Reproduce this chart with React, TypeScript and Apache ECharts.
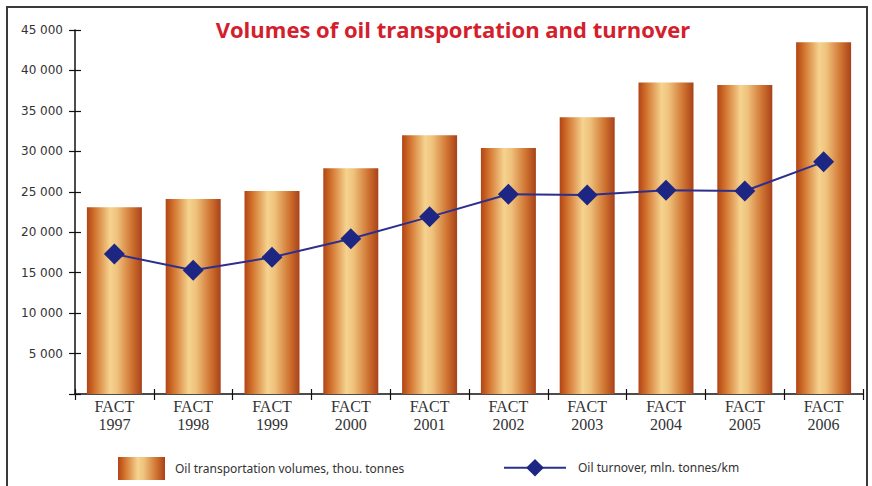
import React, { useEffect, useRef } from "react";
import * as echarts from "echarts";

const categories = ["FACT\n1997", "FACT\n1998", "FACT\n1999", "FACT\n2000", "FACT\n2001", "FACT\n2002", "FACT\n2003", "FACT\n2004", "FACT\n2005", "FACT\n2006"];
const volumes = [23100, 24100, 25100, 27900, 32000, 30400, 34200, 38500, 38200, 43500];
const turnover = [17300, 15300, 16900, 19200, 21900, 24700, 24600, 25200, 25100, 28700];
const titleText = "Volumes of oil transportation and turnover";
const barName = "Oil transportation volumes, thou. tonnes";
const lineName = "Oil turnover, mln. tonnes/km";

const fmt = (v: number) => (v === 0 ? "" : `${Math.floor(v / 1000)} 000`);

export default function App() {
  const ref = useRef<HTMLDivElement>(null);
  useEffect(() => {
    document.body.style.margin = "0";
    const chart = echarts.init(ref.current!, null, { renderer: "svg" });
    const barGrad = new echarts.graphic.LinearGradient(0, 0, 1, 0, [
      { offset: 0, color: "#b24414" },
      { offset: 0.15, color: "#d3752f" },
      { offset: 0.42, color: "#f5d38f" },
      { offset: 0.55, color: "#efc27c" },
      { offset: 0.82, color: "#cf7230" },
      { offset: 1, color: "#a8421a" },
    ]);
    const yCommon = {
      type: "value" as const,
      min: 0,
      max: 45000,
      interval: 5000,
      splitLine: { show: false },
    };
    chart.setOption({
      animation: false,
      backgroundColor: "#ffffff",
      title: {
        text: titleText,
        left: 448,
        top: 13,
        textAlign: "center",
        textStyle: {
          color: "#d3202c",
          fontFamily: "'Open Sans', sans-serif",
          fontWeight: "bold",
          fontSize: 22,
        },
      },
      legend: [
        {
          data: [{ name: barName, icon: "rect" }],
          left: 113,
          top: 452,
          itemWidth: 47,
          itemHeight: 23,
          selectedMode: false,
          textStyle: { fontFamily: "'Noto Sans', sans-serif", fontSize: 12, color: "#333", padding: [0, 0, 0, 5] },
        },
        {
          data: [{ name: lineName }],
          left: 498,
          top: 454,
          itemWidth: 62,
          itemHeight: 22,
          selectedMode: false,
          textStyle: { fontFamily: "'Noto Sans', sans-serif", fontSize: 12, color: "#333", padding: [0, 0, 0, 7] },
        },
      ],
      grid: { left: 75, right: 9, top: 30, bottom: 92 },
      xAxis: [
        {
          type: "category",
          data: categories,
          position: "bottom",
          axisLine: { lineStyle: { color: "#111", width: 1.5 } },
          axisTick: { show: true, length: 6, lineStyle: { color: "#111", width: 1.2 } },
          axisLabel: {
            margin: 3,
            fontFamily: "'Liberation Serif', serif",
            fontSize: 16,
            lineHeight: 18,
            color: "#333",
          },
        },
        {
          type: "category",
          data: categories,
          position: "bottom",
          axisLine: { show: false },
          axisTick: { show: true, inside: true, length: 5, lineStyle: { color: "#111", width: 1.2 } },
          axisLabel: { show: false },
        },
      ],
      yAxis: [
        {
          ...yCommon,
          position: "left",
          axisLine: { show: true, lineStyle: { color: "#111", width: 1.5 } },
          axisTick: { show: true, length: 6, lineStyle: { color: "#111", width: 1.2 } },
          axisLabel: {
            formatter: fmt,
            margin: 12,
            fontFamily: "'DejaVu Sans', sans-serif",
            fontSize: 12,
            color: "#333",
          },
        },
        {
          ...yCommon,
          position: "left",
          axisLine: { show: false },
          axisTick: { show: true, inside: true, length: 6, lineStyle: { color: "#111", width: 1.2 } },
          axisLabel: { show: false },
        },
      ],
      series: [
        {
          name: barName,
          type: "bar",
          data: volumes,
          barWidth: 55,
          itemStyle: { color: barGrad },
          z: 2,
        },
        {
          name: lineName,
          type: "line",
          data: turnover,
          symbol: "diamond",
          symbolSize: 21,
          lineStyle: { color: "#2d2f8c", width: 2 },
          itemStyle: { color: "#1d2682" },
          z: 3,
        },
      ],
      graphic: [
        {
          type: "rect",
          shape: { x: 7, y: 7, width: 860, height: 500 },
          style: { fill: "none", stroke: "#3a3a3a", lineWidth: 2 },
          silent: true,
        },
      ],
    });
    return () => chart.dispose();
  }, []);
  return <div ref={ref} style={{ width: 872, height: 486 }} />;
}
